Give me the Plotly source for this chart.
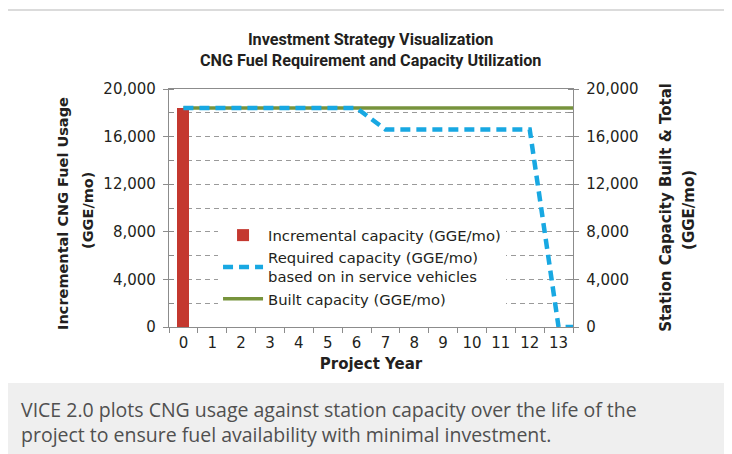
import plotly.graph_objects as go

years = list(range(0, 14))
year_labels = [str(y) for y in years]
incremental = [18400, 0, 0, 0, 0, 0, 0, 0, 0, 0, 0, 0, 0, 0]

line_years = list(range(0, 14)) + [13.5]
required = [18400, 18400, 18400, 18400, 18400, 18400, 18400,
            16600, 16600, 16600, 16600, 16600, 16600, 0, 0]
built = [18400] * 15

y_ticks = [0, 4000, 8000, 12000, 16000, 20000]

W, H = 732, 454
OFF = 8  # page body margin
L = 169 - OFF
T = 89 - OFF
R = W - (572.7 - OFF)
B = H - (327 - OFF)
pw = W - L - R
ph = H - T - B


def sx(px):
    """screen x pixel -> paper x"""
    return (px - OFF - L) / pw


def sy(py):
    """screen y pixel -> paper y"""
    return (H - B - (py - OFF)) / ph


FONT = "DejaVu Sans"
TXT = "#231f20"
AX = "#8c8c8c"

fig = go.Figure()

fig.add_trace(go.Bar(
    x=years, y=incremental, name="Incremental capacity (GGE/mo)",
    marker=dict(color="#c4382f", line=dict(width=0)), width=0.42,
    legendrank=1, yaxis="y",
))
fig.add_trace(go.Scatter(
    x=line_years, y=built, name="Built capacity (GGE/mo)", mode="lines",
    line=dict(color="#77933c", width=3.5), legendrank=3, yaxis="y2",
))
fig.add_trace(go.Scatter(
    x=line_years, y=required,
    name="Required capacity (GGE/mo)<br>based on in service vehicles",
    mode="lines", line=dict(color="#18a8e2", width=4.5, dash="10px,6px"),
    legendrank=2, yaxis="y2",
))

grid = dict(showgrid=True, gridcolor="#9a9a9a", gridwidth=1, griddash="5px,4px")

fig.update_layout(
    width=W, height=H,
    margin=dict(l=L, r=R, t=T, b=B, autoexpand=False),
    paper_bgcolor="white", plot_bgcolor="white",
    font=dict(family=FONT, size=14, color=TXT),
    showlegend=True,
    bargap=0,
    title=dict(
        text="Investment Strategy Visualization<br>CNG Fuel Requirement and Capacity Utilization",
        x=sx(370.5), xref="paper", xanchor="center",
        y=1 - (44.5 - OFF) / H, yanchor="middle",
        font=dict(family="Roboto", size=16.2, color=TXT, weight="bold"),
    ),
    xaxis=dict(
        range=[-0.5, 13.5], tickvals=years, ticktext=year_labels,
        ticks="", showgrid=False, zeroline=False,
        showline=True, linecolor=AX, linewidth=1.3, mirror=True,
        tickfont=dict(size=15, color=TXT), ticklabelstandoff=2,
        minor=dict(ticks="outside", tick0=-0.5, dtick=1, ticklen=5,
                   tickcolor=AX, tickwidth=1, showgrid=False),
        title=dict(text="Project Year", standoff=7,
                   font=dict(size=15, color=TXT, weight="bold")),
    ),
    yaxis=dict(
        range=[0, 20000], tickvals=y_ticks, tickformat=",d",
        ticks="outside", ticklen=5, tickcolor=AX, tickwidth=1,
        showline=True, linecolor=AX, linewidth=1.3, zeroline=False,
        tickfont=dict(size=15, color=TXT), ticklabelstandoff=4,
        minor=dict(dtick=2000, ticks="inside", ticklen=5, tickcolor=AX, **grid),
        **grid,
    ),
    yaxis2=dict(
        range=[0, 20000], tickvals=y_ticks, tickformat=",d",
        overlaying="y", side="right",
        ticks="outside", ticklen=5, tickcolor=AX, tickwidth=1,
        showline=True, linecolor=AX, linewidth=1.3, zeroline=False,
        showgrid=False,
        tickfont=dict(size=15, color=TXT), ticklabelstandoff=4,
        minor=dict(dtick=2000, ticks="inside", ticklen=5, tickcolor=AX),
    ),
    legend=dict(
        x=sx(218), y=sy(219), xanchor="left", yanchor="top",
        bgcolor="white", borderwidth=0, font=dict(size=14.8, color=TXT),
        tracegroupgap=0, itemwidth=40,
    ),
)

# axis titles (each line placed separately to match the reference leading)
axis_titles = [
    ("Incremental CNG Fuel Usage", 63, 213, 14.5),
    ("(GGE/mo)", 88, 210, 14.5),
    ("Station Capacity Built & Total", 665, 207.5, 15),
    ("(GGE/mo)", 688.5, 210, 15),
]
for txt, x, y, size in axis_titles:
    fig.add_annotation(
        xref="paper", yref="paper", x=sx(x), y=sy(y),
        xanchor="center", yanchor="middle", textangle=-90, showarrow=False,
        text=txt, font=dict(size=size, color=TXT, weight="bold"),
    )

# frame and caption panel
fig.add_shape(type="rect", xref="paper", yref="paper",
              x0=sx(0), x1=sx(740), y0=sy(470), y1=sy(383),
              fillcolor="#efefef", line=dict(width=0), layer="below")
fig.add_shape(type="line", xref="paper", yref="paper",
              x0=sx(8), x1=sx(740), y0=sy(10), y1=sy(10),
              line=dict(color="#cfcfcf", width=1.5))

fig.add_annotation(
    xref="paper", yref="paper", x=sx(19), y=sy(421.5),
    xanchor="left", yanchor="middle", align="left", showarrow=False,
    text="VICE 2.0 plots CNG usage against station capacity over the life of the<br>"
         "project to ensure fuel availability with minimal investment.",
    font=dict(family="Open Sans", size=19.5, color="#505050"),
)

fig.write_html("out.html")
